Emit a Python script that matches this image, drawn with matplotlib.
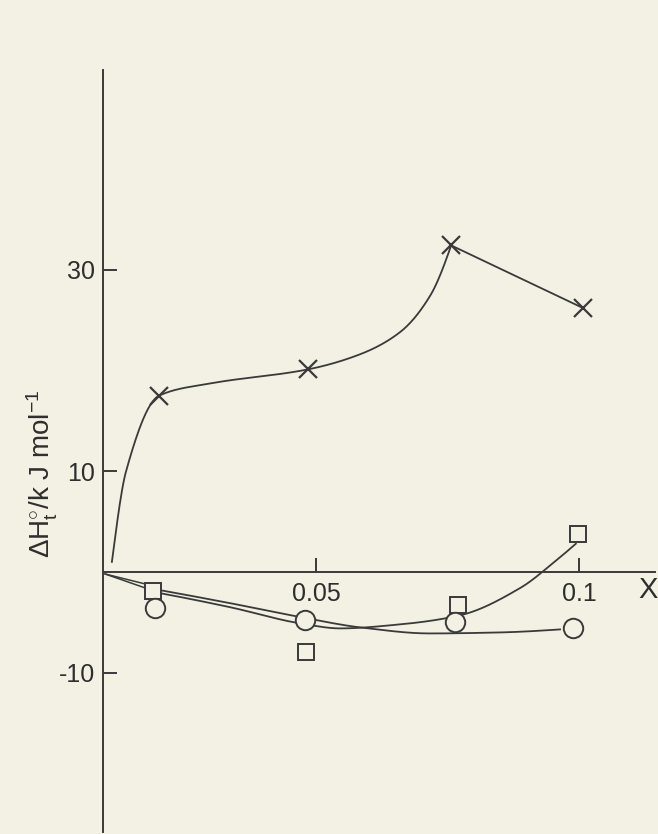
import numpy as np
import matplotlib.pyplot as plt

# page / ink colours of the scan
PAPER = "#f3f1e4"
INK = "#3a3a3a"

# measured points (X = mole fraction, value in kJ/mol)
cross_x = [0.0202, 0.0485, 0.0757, 0.1007]
cross_y = [17.5, 20.1, 32.4, 26.2]
square_x = [0.0190, 0.0481, 0.0770, 0.0998]
square_y = [-1.9, -7.9, -3.3, 3.8]
circle_x = [0.0194, 0.0479, 0.0764, 0.0988]
circle_y = [-3.6, -4.8, -5.0, -5.6]

# hand drawn guide curves
cross_curve_x = [0.0112, 0.0139, 0.0202, 0.0299, 0.0485, 0.0584, 0.0660, 0.0717, 0.0757]
cross_curve_y = [1.0, 10.0, 17.5, 18.7, 20.1, 21.6, 23.8, 27.4, 32.4]
square_curve_x = [0.0203, 0.0337, 0.0470, 0.0546, 0.0660, 0.0774, 0.0888, 0.0958, 0.0994]
square_curve_y = [-2.1, -3.5, -5.1, -5.6, -5.2, -4.3, -1.6, 1.2, 2.8]
circle_curve_x = [0.0203, 0.0337, 0.0473, 0.0584, 0.0717, 0.0850, 0.0964]
circle_curve_y = [-1.8, -3.1, -4.5, -5.5, -6.1, -6.0, -5.7]
origin_x = [0.0099, 0.0176]
origin_y1 = [-0.2, -1.6]
origin_y2 = [-0.2, -1.2]

xticks = [0.05, 0.1]
xtick_labels = ["0.05", "0.1"]
yticks = [-10, 10, 30]
ytick_labels = ["-10", "10", "30"]


def end_slope(h0, h1, d0, d1):
    m = ((2 * h0 + h1) * d0 - h0 * d1) / (h0 + h1)
    if np.sign(m) != np.sign(d0):
        return 0.0
    if np.sign(d0) != np.sign(d1) and abs(m) > abs(3 * d0):
        return 3 * d0
    return m


def pchip(xk, yk, n=300):
    xk = np.asarray(xk, float)
    yk = np.asarray(yk, float)
    h = np.diff(xk)
    d = np.diff(yk) / h
    m = np.zeros_like(yk)
    m[0] = end_slope(h[0], h[1], d[0], d[1])
    m[-1] = end_slope(h[-1], h[-2], d[-1], d[-2])
    for k in range(1, len(xk) - 1):
        if d[k - 1] * d[k] > 0:
            w1 = 2 * h[k] + h[k - 1]
            w2 = h[k] + 2 * h[k - 1]
            m[k] = (w1 + w2) / (w1 / d[k - 1] + w2 / d[k])
    xs = np.linspace(xk[0], xk[-1], n)
    i = np.clip(np.searchsorted(xk, xs) - 1, 0, len(h) - 1)
    t = (xs - xk[i]) / h[i]
    ys = ((2 * t**3 - 3 * t**2 + 1) * yk[i] + (t**3 - 2 * t**2 + t) * h[i] * m[i]
          + (-2 * t**3 + 3 * t**2) * yk[i + 1] + (t**3 - t**2) * h[i] * m[i + 1])
    return xs, ys


plt.rcParams['font.family'] = ['Liberation Sans', 'DejaVu Sans']
plt.rcParams['mathtext.fontset'] = 'custom'
plt.rcParams['mathtext.rm'] = 'Liberation Sans'
plt.rcParams['mathtext.it'] = 'Liberation Sans'

W, H = 658, 834
fig = plt.figure(figsize=(W / 100, H / 100), dpi=100, facecolor=PAPER)
ax = fig.add_axes([103 / W, 2 / H, 552 / W, 762 / H])
ax.set_facecolor("none")
ax.set_xlim(0.00951, 0.11445)
ax.set_ylim(-25.8, 49.8)

for s in ("top", "right"):
    ax.spines[s].set_visible(False)
ax.spines["bottom"].set_position(("data", 0))
for s in ("left", "bottom"):
    ax.spines[s].set_color(INK)
    ax.spines[s].set_linewidth(1.4)

ax.set_xticks(xticks, xtick_labels)
ax.set_yticks(yticks, ytick_labels)
ax.tick_params(axis="both", direction="in", length=10, width=1.4, colors=INK,
               labelsize=18, labelcolor="#2e2e2e")
ax.tick_params(axis="x", pad=7)
ax.tick_params(axis="y", pad=6)

lw = 1.3
xs, ys = pchip(cross_curve_x, cross_curve_y)
ax.plot(xs, ys, color=INK, lw=lw)
ax.plot(cross_x[2:], cross_y[2:], color=INK, lw=lw)
xs, ys = pchip(square_curve_x, square_curve_y)
ax.plot(xs, ys, color=INK, lw=lw)
xs, ys = pchip(circle_curve_x, circle_curve_y)
ax.plot(xs, ys, color=INK, lw=lw)
ax.plot(origin_x, origin_y1, color=INK, lw=1.1)
ax.plot(origin_x, origin_y2, color=INK, lw=1.1)

ax.plot(cross_x, cross_y, "x", ms=13, mew=1.6, color=INK, ls="none")
ax.plot(square_x, square_y, "s", ms=11, mew=1.4, mfc=PAPER, mec=INK, ls="none")
ax.plot(circle_x, circle_y, "o", ms=14, mew=1.4, mfc=PAPER, mec=INK, ls="none")

fig.text(648 / W, 1 - 590 / H, "X", fontsize=21, color="#2e2e2e",
         ha="center", va="center")
fig.text(42 / W, 1 - 474 / H, r"$\Delta$H$^{\circ}_{t}$/k J mol$^{-1}$",
         fontsize=20, color="#2e2e2e", rotation=90, ha="center", va="center")

fig.savefig("out.png", dpi=100, facecolor=PAPER)
